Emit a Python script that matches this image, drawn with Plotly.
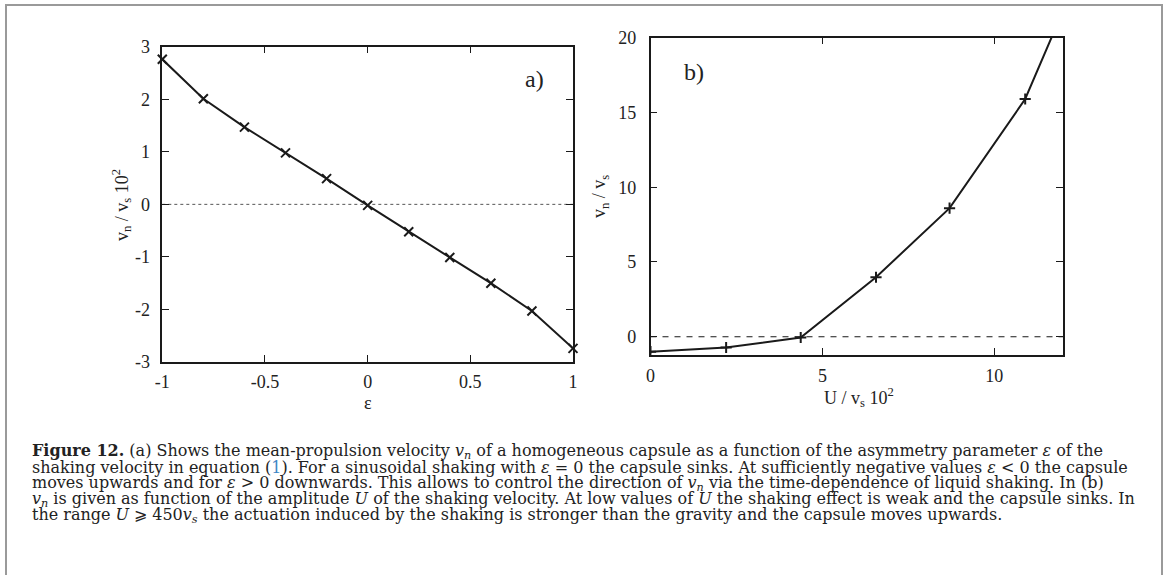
import plotly.graph_objects as go

# ---- data ----
eps = [-1, -0.8, -0.6, -0.4, -0.2, 0, 0.2, 0.4, 0.6, 0.8, 1]
vn_a = [2.76, 2.01, 1.47, 0.98, 0.49, -0.02, -0.52, -1.01, -1.50, -2.03, -2.74]

U = [0, 2.2, 4.37, 6.56, 8.7, 10.9, 13.1]
vn_b = [-1.0, -0.72, -0.05, 3.98, 8.6, 15.9, 27.7]

a_xticks = [-1, -0.5, 0, 0.5, 1]
a_xlabels = ["-1", "-0.5", "0", "0.5", "1"]
a_yticks = [-3, -2, -1, 0, 1, 2, 3]
a_ylabels = ["-3", "-2", "-1", "0", "1", "2", "3"]
b_xticks = [0, 5, 10]
b_xlabels = ["0", "5", "10"]
b_yticks = [0, 5, 10, 15, 20]
b_ylabels = ["0", "5", "10", "15", "20"]

caption_lines = [
    "<b>Figure 12.</b> (a) Shows the mean-propulsion velocity <i>v<sub>n</sub></i> of a homogeneous capsule as a function of the asymmetry parameter <i>ε</i> of the",
    "shaking velocity in equation (<span style='color:#3b86c6'>1</span>). For a sinusoidal shaking with <i>ε</i> = 0 the capsule sinks. At sufficiently negative values <i>ε</i> &lt; 0 the capsule",
    "moves upwards and for <i>ε</i> &gt; 0 downwards. This allows to control the direction of <i>v<sub>n</sub></i> via the time-dependence of liquid shaking. In (b)",
    "<i>v<sub>n</sub></i> is given as function of the amplitude <i>U</i> of the shaking velocity. At low values of <i>U</i> the shaking effect is weak and the capsule sinks. In",
    "the range <i>U</i> ⩾ 450<i>v<sub>s</sub></i> the actuation induced by the shaking is stronger than the gravity and the capsule moves upwards.",
]

W, H = 1166, 575
def px(x):
    return x / W
def py(y):
    return 1 - y / H

SERIF = "Liberation Serif"
CAPFONT = "DejaVu Serif"
INK = "#1a1a1a"

fig = go.Figure()

fig.add_trace(go.Scatter(
    x=eps, y=vn_a, mode="lines+markers", xaxis="x", yaxis="y",
    line=dict(color=INK, width=2),
    marker=dict(symbol="x-thin-open", size=9, line=dict(color=INK, width=2)),
    showlegend=False, cliponaxis=False,
))
fig.add_trace(go.Scatter(
    x=U, y=vn_b, mode="lines+markers", xaxis="x2", yaxis="y2",
    line=dict(color=INK, width=2),
    marker=dict(symbol="cross-thin-open", size=8, line=dict(color=INK, width=2)),
    showlegend=False, cliponaxis=True,
))

axis_common = dict(
    showgrid=False, zeroline=False, showline=True, linecolor=INK, linewidth=1.5,
    mirror="allticks", ticks="inside", ticklen=7, tickwidth=1.2, tickcolor=INK,
    tickfont=dict(family=SERIF, size=18, color="#222"), automargin=False,
    fixedrange=True,
)

fig.update_layout(
    width=W, height=H,
    margin=dict(l=0, r=0, t=0, b=0),
    paper_bgcolor="white", plot_bgcolor="white",
    xaxis=dict(domain=[px(162.3), px(573)], range=[-1, 1], anchor="y",
               tickvals=a_xticks, ticktext=a_xlabels, ticklabelstandoff=3, **axis_common),
    yaxis=dict(domain=[py(362), py(46.7)], range=[-3, 3], anchor="x",
               tickvals=a_yticks, ticktext=a_ylabels, ticklabelstandoff=7, **axis_common),
    xaxis2=dict(domain=[px(650.5), px(1063)], range=[0, 12], anchor="y2",
                tickvals=b_xticks, ticktext=b_xlabels, ticklabelstandoff=4, **axis_common),
    yaxis2=dict(domain=[py(354.7), py(37.7)], range=[-1.2, 20], anchor="x2",
                tickvals=b_yticks, ticktext=b_ylabels, ticklabelstandoff=9, **axis_common),
    showlegend=False,
)

shapes = [
    # outer frame
    dict(type="rect", xref="paper", yref="paper", x0=px(6), x1=px(1162),
         y0=-0.05, y1=py(5), line=dict(color="#9a9a9a", width=2), layer="below"),
    # zero reference lines
    dict(type="line", xref="x domain", yref="y", x0=0, x1=1, y0=0, y1=0,
         line=dict(color="#555", width=1, dash="dot"), layer="below"),
    dict(type="line", xref="x2 domain", yref="y2", x0=0, x1=1, y0=0, y1=0,
         line=dict(color=INK, width=1.2, dash="6px,6px"), layer="below"),
]
fig.update_layout(shapes=shapes)

ann = []
def add_text(text, x, y, size=18, angle=0, xanchor="center", yanchor="middle",
             family=SERIF, align="center"):
    ann.append(dict(text=text, x=px(x), y=py(y), xref="paper", yref="paper",
                    showarrow=False, xanchor=xanchor, yanchor=yanchor, align=align,
                    textangle=angle, borderpad=0,
                    font=dict(family=family, size=size, color="#222")))

add_text("v<sub>n</sub> / v<sub>s</sub> 10<sup>2</sup>", 122, 205, angle=-90)
add_text("ε", 368, 403)
add_text("v<sub>n</sub> / v<sub>s</sub>", 600, 197, angle=-90)
add_text("U / v<sub>s</sub> 10<sup>2</sup>", 859, 397)
add_text("a)", 534, 79, size=24)
add_text("b)", 694, 72, size=24)

base0 = 456.5
step = 15.9
for i, line in enumerate(caption_lines):
    add_text(line, 31, base0 + i * step - 5, size=16, xanchor="left",
             yanchor="middle", family=CAPFONT, align="left")

fig.update_layout(annotations=ann)

fig.write_html("out.html", config={"displayModeBar": False},
               post_script="document.body.style.margin='0px';")
